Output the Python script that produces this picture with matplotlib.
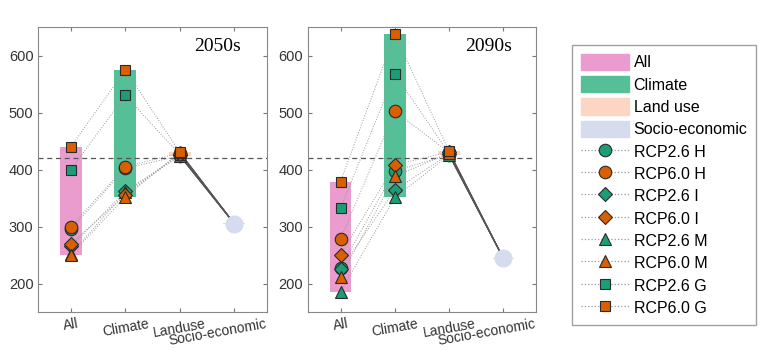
import matplotlib
matplotlib.use('Agg')
import matplotlib.pyplot as plt
import matplotlib.transforms as mtransforms
from matplotlib.patches import Patch
from matplotlib.lines import Line2D

plt.rcParams['font.family'] = ['Liberation Sans', 'DejaVu Sans']

# 数据
categories = ['All', 'Climate', 'Landuse', 'Socio-economic']
scenarios = ['RCP2.6 H', 'RCP6.0 H', 'RCP2.6 I', 'RCP6.0 I',
             'RCP2.6 M', 'RCP6.0 M', 'RCP2.6 G', 'RCP6.0 G']
markers = ['o', 'o', 'D', 'D', '^', '^', 's', 's']
msizes = [9, 9, 7, 7, 9, 9, 6.5, 6.5]

# 2050s
all_2050 = [295, 300, 265, 270, 252, 250, 400, 440]
climate_2050 = [402, 405, 362, 355, 360, 352, 530, 575]
landuse_2050 = [424, 429, 425, 428, 424, 430, 426, 430]
socio_2050 = 305

# 2090s
all_2090 = [228, 278, 225, 250, 186, 212, 332, 379]
climate_2090 = [398, 502, 364, 408, 351, 388, 568, 637]
landuse_2090 = [426, 430, 427, 431, 425, 429, 428, 432]
socio_2090 = 244

baseline = 420
green = '#1b9e77'
orange = '#d95f02'
bar_colors = ['#e99ccd', '#55bf98', '#fdd5c3', '#d5dcee']

fig = plt.figure(figsize=(7.65, 3.51), dpi=100)
ax1 = fig.add_axes([0.050, 0.111, 0.299, 0.812])
ax2 = fig.add_axes([0.4026, 0.111, 0.298, 0.812])

def draw(ax, a, c, l, s, title, tx):
    x = [1, 2, 3, 4]
    w = 0.4
    ax.bar(1, max(a) - min(a), bottom=min(a), width=w, color=bar_colors[0], zorder=1)
    ax.bar(2, max(c) - min(c), bottom=min(c), width=w, color=bar_colors[1], zorder=1)
    ax.bar(3, max(l) - min(l), bottom=min(l), width=w, color=bar_colors[2], zorder=1)
    ax.bar(4, 2, bottom=s - 1, width=w, color=bar_colors[3], zorder=1)
    ax.axhline(baseline, color='#555555', ls=(0, (4, 3)), lw=0.9, zorder=2)
    for i in range(len(scenarios)):
        ax.plot([1, 2, 3], [a[i], c[i], l[i]], color='#9a9a9a', ls=':', lw=0.7, zorder=2)
        ax.plot([3, 4], [l[i], s], color='#555555', lw=0.8, zorder=2)
    for i in range(len(scenarios)):
        col = green if i % 2 == 0 else orange
        ax.plot([1, 2, 3], [a[i], c[i], l[i]], ls='none', marker=markers[i],
                ms=msizes[i], mfc=col, mec='#2a2a2a', mew=0.8, zorder=4 + (i % 2))
    ax.plot(4, s, 'o', ms=12, color=bar_colors[3], zorder=6)
    ax.set_xlim(0.4, 4.6)
    ax.set_ylim(150, 650)
    ax.set_yticks([200, 300, 400, 500, 600])
    ax.set_xticks(x)
    # 最后一个标签单独放置（稍微向左下偏移）
    ax.set_xticklabels(categories[:3] + [''], rotation=10, ha='center', fontsize=10, color='#333333')
    trans = mtransforms.blended_transform_factory(ax.transData, ax.transAxes)
    trans = trans + mtransforms.ScaledTranslation(-0.17, -0.20, fig.dpi_scale_trans)
    ax.text(4, 0, categories[3], transform=trans, rotation=10, ha='center', va='center',
            fontsize=10, color='#333333', rotation_mode='anchor', clip_on=False)
    ax.tick_params(axis='y', labelsize=10.5, labelcolor='#333333')
    ax.tick_params(direction='in', top=True, right=True, length=3, color='#777777')
    for sp in ax.spines.values():
        sp.set_color('#888888')
    ax.text(tx, 0.93, title, transform=ax.transAxes, ha='right', va='center',
            fontsize=14, family='Liberation Serif')

draw(ax1, all_2050, climate_2050, landuse_2050, socio_2050, '2050s', 0.885)
draw(ax2, all_2090, climate_2090, landuse_2090, socio_2090, '2090s', 0.895)

handles = [Patch(color=bar_colors[0]), Patch(color=bar_colors[1]),
           Patch(color=bar_colors[2]), Patch(color=bar_colors[3])]
for i in range(len(scenarios)):
    col = green if i % 2 == 0 else orange
    handles.append(Line2D([], [], color='#999999', ls=':', lw=0.9, marker=markers[i],
                          ms=msizes[i], mfc=col, mec='#2a2a2a', mew=0.8))
labels = ['All', 'Climate', 'Land use', 'Socio-economic'] + scenarios
fig.legend(handles, labels, loc='upper left', bbox_to_anchor=(0.748, 0.872),
           fontsize=11.5, frameon=True, fancybox=False, edgecolor='#888888',
           handlelength=3.0, handleheight=1.2, handletextpad=0.3,
           labelspacing=0.36, borderpad=0.55, borderaxespad=0)

fig.savefig('out.png', dpi=100)
